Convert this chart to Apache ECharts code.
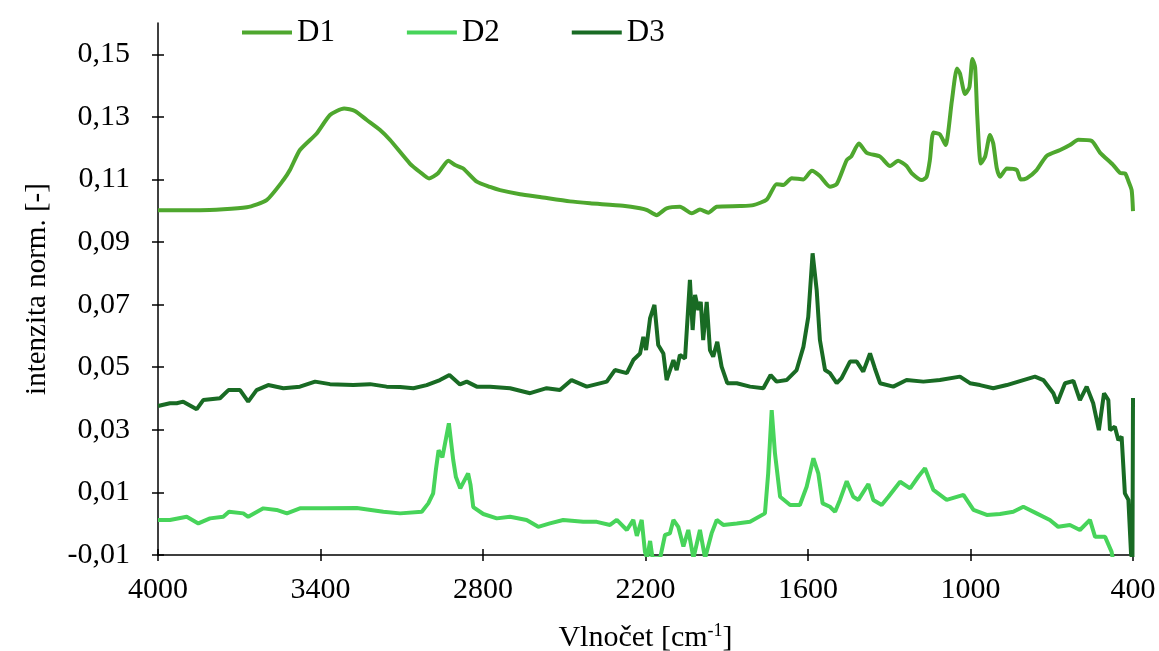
<!DOCTYPE html>
<html>
<head>
    <meta charset="utf-8">
    <title>Spektra D1 D2 D3</title>
    <script src="https://cdn.jsdelivr.net/npm/echarts@6/dist/echarts.min.js"></script>
    <style>
        body { margin: 0; background: #fff; }
    </style>
</head>
<body>
    <div id="main" style="width: 1159px;height:651px;"></div>
    <script type="text/javascript">
        // tick labels
        var xTicks = [4000, 3400, 2800, 2200, 1600, 1000, 400];
        var yTicks = [-0.01, 0.01, 0.03, 0.05, 0.07, 0.09, 0.11, 0.13, 0.15];

        // D1 - vlnocet / intenzita
        var d1Wn = [4000, 3845, 3672, 3599, 3537, 3513, 3476, 3414, 3365, 3313, 3273, 3229, 3180, 3143,
            3070, 3033, 2999, 2966, 2928, 2903, 2873, 2823, 2774, 2737, 2663, 2590, 2479, 2405, 2283,
            2220, 2194, 2159, 2122, 2073, 2029, 1999, 1968, 1937, 1851, 1802, 1752, 1716, 1691, 1660,
            1617, 1586, 1556, 1519, 1494, 1457, 1441, 1412, 1383, 1334, 1297, 1267, 1236, 1217, 1180,
            1162, 1150, 1137, 1113, 1092, 1069, 1050, 1039, 1020, 1004, 993, 983, 975, 962, 946, 928,
            916, 903, 891, 866, 829, 815, 792, 756, 719, 669, 633, 602, 552, 522, 473, 448, 429, 417,
            405, 400];
        var d1Val = [0.1002, 0.1002, 0.1011, 0.1034, 0.1098, 0.1130, 0.1194, 0.1247, 0.1306, 0.1327,
            0.1319, 0.1290, 0.1258, 0.1226, 0.1151, 0.1124, 0.1103, 0.1120, 0.1160, 0.1146, 0.1135,
            0.1093, 0.1076, 0.1066, 0.1053, 0.1044, 0.1030, 0.1024, 0.1016, 0.1008, 0.1002, 0.0986,
            0.1008, 0.1013, 0.0992, 0.1004, 0.0994, 0.1013, 0.1015, 0.1018, 0.1036, 0.1085, 0.1082,
            0.1104, 0.1100, 0.1128, 0.1111, 0.1077, 0.1085, 0.1162, 0.1173, 0.1215, 0.1185, 0.1173,
            0.1143, 0.1160, 0.1143, 0.1120, 0.1098, 0.1109, 0.1162, 0.1250, 0.1244, 0.1210, 0.1350,
            0.1455, 0.1439, 0.1373, 0.1395, 0.1485, 0.1459, 0.1303, 0.1151, 0.1173, 0.1242, 0.1215,
            0.1136, 0.1109, 0.1135, 0.1130, 0.1100, 0.1104, 0.1130, 0.1175, 0.1194, 0.1210, 0.1227,
            0.1223, 0.1186, 0.1146, 0.1121, 0.1119, 0.1095, 0.1066, 0.0999];

        // D2
        var d2Wn = [4000, 3956, 3894, 3851, 3808, 3759, 3738, 3685, 3667, 3611, 3562, 3524, 3476, 3390,
            3266, 3168, 3106, 3026, 3002, 2984, 2974, 2964, 2950, 2926, 2910, 2900, 2884, 2855, 2846,
            2836, 2799, 2749, 2700, 2639, 2596, 2553, 2504, 2430, 2380, 2331, 2306, 2269, 2245, 2232,
            2214, 2202, 2194, 2183, 2174, 2146, 2128, 2110, 2097, 2079, 2060, 2042, 2023, 1999, 1980,
            1956, 1937, 1913, 1863, 1814, 1759, 1747, 1734, 1722, 1703, 1666, 1630, 1605, 1580, 1562,
            1546, 1519, 1500, 1482, 1457, 1433, 1414, 1377, 1359, 1328, 1303, 1260, 1223, 1193, 1168,
            1137, 1088, 1026, 989, 940, 891, 842, 805, 756, 707, 676, 633, 596, 559, 540, 503, 479, 474];
        var d2Val = [0.0012, 0.0012, 0.0022, 0.0001, 0.0017, 0.0022, 0.0038, 0.0033, 0.0022, 0.0049,
            0.0044, 0.0033, 0.0049, 0.0049, 0.0050, 0.0038, 0.0033, 0.0038, 0.0065, 0.0097, 0.0172,
            0.0235, 0.0212, 0.0321, 0.0204, 0.0149, 0.0113, 0.0161, 0.0124, 0.0053, 0.0031, 0.0017,
            0.0022, 0.0012, -0.0010, 0.0001, 0.0012, 0.0006, 0.0006, -0.0004, 0.0012, -0.0020, 0.0012,
            -0.0039, 0.0012, -0.0090, -0.0110, -0.0055, -0.0110, -0.0110, -0.0036, -0.0031, 0.0012,
            -0.0010, -0.0073, -0.0020, -0.0110, -0.0020, -0.0110, -0.0031, 0.0012, -0.0004, 0.0001,
            0.0006, 0.0033, 0.0161, 0.0363, 0.0225, 0.0086, 0.0060, 0.0060, 0.0118, 0.0209, 0.0161,
            0.0065, 0.0054, 0.0038, 0.0076, 0.0136, 0.0086, 0.0076, 0.0127, 0.0076, 0.0060, 0.0086,
            0.0134, 0.0113, 0.0150, 0.0177, 0.0108, 0.0076, 0.0092, 0.0044, 0.0028, 0.0031, 0.0038,
            0.0054, 0.0033, 0.0012, -0.0010, -0.0004, -0.0020, 0.0012, -0.0042, -0.0042, -0.0090, -0.0115];

        // D3
        var d3Wn = [4000, 3956, 3931, 3907, 3857, 3833, 3771, 3740, 3697, 3667, 3636, 3593, 3537, 3476,
            3420, 3365, 3279, 3217, 3156, 3106, 3057, 3008, 2959, 2924, 2885, 2860, 2823, 2774, 2700,
            2626, 2565, 2516, 2473, 2417, 2343, 2313, 2269, 2245, 2220, 2208, 2198, 2183, 2167, 2153,
            2134, 2122, 2097, 2085, 2073, 2054, 2036, 2026, 2017, 2005, 1996, 1987, 1974, 1962, 1950,
            1935, 1919, 1898, 1863, 1814, 1765, 1738, 1716, 1679, 1642, 1617, 1599, 1583, 1568, 1556,
            1537, 1519, 1494, 1476, 1445, 1420, 1396, 1371, 1353, 1334, 1285, 1236, 1174, 1113, 1039,
            1002, 965, 916, 866, 805, 762, 731, 694, 680, 651, 620, 596, 571, 547, 526, 507, 491, 485,
            467, 454, 442, 430, 417, 407, 402, 400];
        var d3Val = [0.0376, 0.0385, 0.0385, 0.0390, 0.0366, 0.0395, 0.0401, 0.0427, 0.0427, 0.0390,
            0.0427, 0.0443, 0.0433, 0.0438, 0.0454, 0.0446, 0.0443, 0.0446, 0.0438, 0.0437, 0.0433,
            0.0443, 0.0459, 0.0475, 0.0445, 0.0454, 0.0438, 0.0438, 0.0433, 0.0417, 0.0433, 0.0427,
            0.0459, 0.0438, 0.0454, 0.0491, 0.0481, 0.0523, 0.0544, 0.0597, 0.0555, 0.0657, 0.0699,
            0.0571, 0.0544, 0.0459, 0.0523, 0.0491, 0.0539, 0.0528, 0.0779, 0.0619, 0.0731, 0.0683,
            0.0709, 0.0587, 0.0709, 0.0555, 0.0534, 0.0581, 0.0502, 0.0449, 0.0449, 0.0438, 0.0433,
            0.0475, 0.0454, 0.0459, 0.0491, 0.0565, 0.0661, 0.0864, 0.0747, 0.0587, 0.0491, 0.0481,
            0.0449, 0.0465, 0.0518, 0.0518, 0.0486, 0.0544, 0.0496, 0.0449, 0.0438, 0.0459, 0.0454,
            0.0459, 0.0470, 0.0449, 0.0443, 0.0433, 0.0443, 0.0459, 0.0470, 0.0459, 0.0417, 0.0385,
            0.0449, 0.0456, 0.0395, 0.0438, 0.0385, 0.0299, 0.0417, 0.0395, 0.0299, 0.0310, 0.0267,
            0.0278, 0.0097, 0.0076, -0.0100, -0.0110, 0.0402];

        function pairs(wn, val) {
            return wn.map(function (w, i) { return [w, val[i]]; });
        }

        var font = 'Liberation Serif';
        var tickStyle = { color: '#000', width: 1.5 };
        var myChart = echarts.init(document.getElementById('main'));

        var option = {
            animation: false,
            color: ['#4EA72E', '#47D45A', '#196B24'],
            textStyle: { fontFamily: font, color: '#000' },
            legend: {
                data: ['D1', 'D2', 'D3'],
                icon: 'rect',
                left: 237,
                top: 12,
                itemWidth: 50,
                itemHeight: 4,
                itemGap: 72,
                textStyle: { fontFamily: font, fontSize: 31, color: '#000' }
            },
            grid: { left: 158, right: 26, top: 23, bottom: 96, outerBoundsMode: 'none', containLabel: false },
            xAxis: [{
                type: 'value',
                inverse: true,
                min: 400,
                max: 4000,
                name: 'Vlnočet [cm{sup|-1}]',
                nameLocation: 'middle',
                nameGap: 67,
                nameTextStyle: {
                    fontFamily: font, fontSize: 30, color: '#000',
                    rich: { sup: { fontFamily: font, fontSize: 18, verticalAlign: 'top', padding: [0, 0, 14, 0] } }
                },
                splitLine: { show: false },
                axisLine: { onZero: false, lineStyle: tickStyle },
                axisTick: { length: 6, customValues: xTicks, lineStyle: tickStyle },
                axisLabel: {
                    customValues: xTicks, fontFamily: font, fontSize: 30, color: '#000', margin: 20,
                    formatter: function (v) { return String(v); }
                }
            }, {
                type: 'value',
                inverse: true,
                position: 'bottom',
                min: 400,
                max: 4000,
                splitLine: { show: false },
                axisLine: { show: false, onZero: false },
                axisTick: { show: true, inside: true, length: 6, customValues: xTicks, lineStyle: tickStyle },
                axisLabel: { show: false, customValues: xTicks }
            }],
            yAxis: [{
                type: 'value',
                min: -0.01,
                max: 0.16,
                name: 'intenzita norm. [-]',
                nameLocation: 'middle',
                nameGap: 106,
                nameTextStyle: { fontFamily: font, fontSize: 29, color: '#000' },
                splitLine: { show: false },
                axisLine: { show: true, onZero: false, lineStyle: tickStyle },
                axisTick: { show: true, length: 6, customValues: yTicks, lineStyle: tickStyle },
                axisLabel: {
                    customValues: yTicks,
                    fontFamily: font, fontSize: 30, color: '#000', margin: 28,
                    formatter: function (v) { return v.toFixed(2).replace('.', ','); }
                }
            }, {
                type: 'value',
                position: 'left',
                offset: 0,
                min: -0.01,
                max: 0.16,
                splitLine: { show: false },
                axisLine: { show: false, onZero: false },
                axisTick: { show: true, inside: true, length: 6, customValues: yTicks, lineStyle: tickStyle },
                axisLabel: { show: false, customValues: yTicks }
            }],
            series: [{
                name: 'D1',
                type: 'line',
                symbol: 'none',
                smooth: 0.2,
                lineStyle: { width: 4 },
                data: pairs(d1Wn, d1Val)
            }, {
                name: 'D2',
                type: 'line',
                symbol: 'none',
                lineStyle: { width: 4 },
                data: pairs(d2Wn, d2Val)
            }, {
                name: 'D3',
                type: 'line',
                symbol: 'none',
                lineStyle: { width: 4 },
                data: pairs(d3Wn, d3Val)
            }]
        };
        myChart.setOption(option);
    </script>
</body>
</html>
